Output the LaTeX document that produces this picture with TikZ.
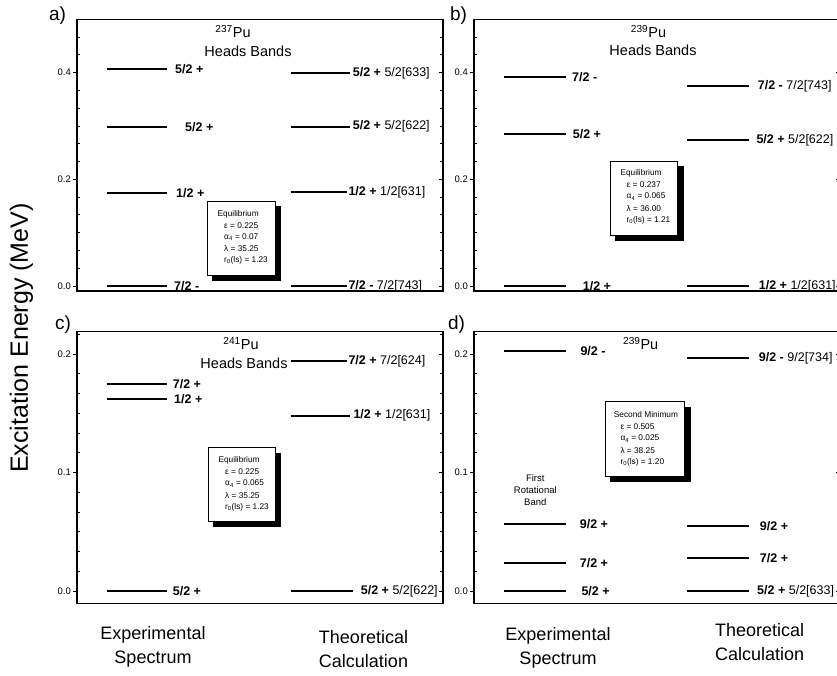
\documentclass[tikz,border=0pt]{standalone}
\usepackage{fontspec}
\setmainfont{Liberation Sans}
\tikzset{
  frameline/.style={line width=1.3pt},
  tickline/.style={line width=0.9pt},
  lvl/.style={line width=1.8pt},
  ticklab/.style={anchor=east, inner sep=0pt, font=\fontsize{9.5}{9.5}\selectfont},
  lvllab/.style={anchor=west, inner sep=0pt, font=\fontsize{12.5}{12.5}\selectfont},
  panellab/.style={inner sep=0pt, font=\fontsize{19}{19}\selectfont},
  titlelab/.style={inner sep=0pt, font=\fontsize{14.5}{14.5}\selectfont},
  boxtxt/.style={anchor=west, inner sep=0pt, font=\fontsize{8.3}{8.3}\selectfont},
  boxshadow/.style={fill=black, draw=black},
  boxface/.style={fill=white, draw=black, line width=0.9pt},
  bottomlab/.style={inner sep=0pt, align=center, font=\fontsize{18}{24}\selectfont},
  smalllab/.style={inner sep=0pt, align=center, font=\fontsize{9.5}{12.3}\selectfont},
}
% #1 left x, #2 right x, #3 top y, #4 bottom y, #5 zero y, #6 px per minor step, #7 number of steps
\newcommand\myaxes[7]{%
  \draw[frameline] (#1,#3) rectangle (#2,#4);
  \foreach \k in {0,...,#7}{%
    \pgfmathsetmacro\yy{#5-\k*#6}%
    \pgfmathtruncatemacro\mm{mod(\k,6)}%
    \ifnum\mm=0
      \draw[tickline] (#1,\yy) -- ++(-4.5,0);
      \draw[tickline] (#2,\yy) -- ++(-4.5,0);
    \else
      \draw[tickline] (#1,\yy) -- ++(3,0);
      \draw[tickline] (#2,\yy) -- ++(-3,0);
    \fi
  }%
}
% #1 name, #2 x1, #3 y1, #4 x2, #5 y2
\newcommand\parambox[5]{%
  \draw[boxshadow] (#2+5,#3+5) rectangle (#4+5,#5+5);
  \draw[boxface] (#2,#3) rectangle (#4,#5);
}
\begin{document}
\begin{tikzpicture}[x=1pt,y=-1pt]
\useasboundingbox (0,0) rectangle (837,675);
\clip (0,0) rectangle (837,675);

% ---------- axes ----------
\myaxes{77}{443}{19.5}{291}{286}{17.777}{14}
\myaxes{474}{840}{19.5}{291}{286}{17.777}{14}
\myaxes{77}{443}{331.7}{603.3}{591}{19.75}{13}
\myaxes{474}{840}{331.7}{603.3}{591}{19.75}{13}

% tick labels
\node[ticklab] (ta0) at (71,286) {0.0};
\node[ticklab] (ta2) at (71,179.3) {0.2};
\node[ticklab] (ta4) at (71,72.7) {0.4};
\node[ticklab] (tb0) at (468,286) {0.0};
\node[ticklab] (tb2) at (468,179.3) {0.2};
\node[ticklab] (tb4) at (468,72.7) {0.4};
\node[ticklab] (tc0) at (71,591) {0.0};
\node[ticklab] (tc1) at (71,472.5) {0.1};
\node[ticklab] (tc2) at (71,354) {0.2};
\node[ticklab] (td0) at (468,591) {0.0};
\node[ticklab] (td1) at (468,472.5) {0.1};
\node[ticklab] (td2) at (468,354) {0.2};

% panel letters
\node[panellab] (pa) at (57.5,15.5) {a)};
\node[panellab] (pb) at (458.5,15.5) {b)};
\node[panellab] (pc) at (63,325) {c)};
\node[panellab] (pd) at (456.5,325) {d)};

% ---------- panel a ----------
\node[titlelab] (tia) at (233,31.7) {\textsuperscript{237}Pu};
\node[titlelab] (hba) at (248,51.7) {Heads Bands};
\draw[lvl] (106.7,69.3) -- (166.7,69.3);
\draw[lvl] (106.7,126.7) -- (166.7,126.7);
\draw[lvl] (106.7,192.7) -- (166.7,192.7);
\draw[lvl] (106.7,286) -- (166.7,286);
\node[lvllab] (ea1) at (175,69.3) {\textbf{5/2 +}};
\node[lvllab] (ea2) at (185,126.7) {\textbf{5/2 +}};
\node[lvllab] (ea3) at (176,192.7) {\textbf{1/2 +}};
\node[lvllab] (ea4) at (174,286) {\textbf{7/2 -}};
\draw[lvl] (290.7,73.3) -- (350,73.3);
\draw[lvl] (290.7,126.7) -- (350,126.7);
\draw[lvl] (290.7,192) -- (346.7,192);
\draw[lvl] (290.7,286) -- (346.7,286);
\node[lvllab] (ca1) at (352.7,73.3) {\textbf{5/2 +} 5/2[633]};
\node[lvllab] (ca2) at (352.7,126.7) {\textbf{5/2 +} 5/2[622]};
\node[lvllab] (ca3) at (348.3,192) {\textbf{1/2 +} 1/2[631]};
\node[lvllab] (ca4) at (348.3,286) {\textbf{7/2 -} 7/2[743]};
\parambox{ba}{207.5}{201}{275}{275}
\node[boxtxt] (ba1) at (217.5,214) {Equilibrium};
\node[boxtxt] (ba2) at (224,225.5) {ε = 0.225};
\node[boxtxt] (ba3) at (224,237) {α\textsubscript{4} = 0.07};
\node[boxtxt] (ba4) at (224,249) {λ = 35.25};
\node[boxtxt] (ba5) at (224,260.5) {r\textsubscript{0}(ls) = 1.23};

% ---------- panel b ----------
\node[titlelab] (tib) at (648.5,31.7) {\textsuperscript{239}Pu};
\node[titlelab] (hbb) at (653,50.5) {Heads Bands};
\draw[lvl] (504.3,77.3) -- (566,77.3);
\draw[lvl] (504.3,134.3) -- (566,134.3);
\draw[lvl] (504.3,286) -- (566,286);
\node[lvllab] (eb1) at (572,77.3) {\textbf{7/2 -}};
\node[lvllab] (eb2) at (572.7,134.3) {\textbf{5/2 +}};
\node[lvllab] (eb3) at (582.7,286) {\textbf{1/2 +}};
\draw[lvl] (687,86) -- (749.3,86);
\draw[lvl] (687,140) -- (749.3,140);
\draw[lvl] (687,286) -- (749.3,286);
\node[lvllab] (cb1) at (757.7,86) {\textbf{7/2 -} 7/2[743]};
\node[lvllab] (cb2) at (756.3,140) {\textbf{5/2 +} 5/2[622]};
\node[lvllab] (cb3) at (758.7,286) {\textbf{1/2 +} 1/2[631]};
\parambox{bb}{610.3}{161}{677.7}{235}
\node[boxtxt] (bb1) at (620.3,173.5) {Equilibrium};
\node[boxtxt] (bb2) at (626.5,185) {ε = 0.237};
\node[boxtxt] (bb3) at (626.5,196.5) {α\textsubscript{4} = 0.065};
\node[boxtxt] (bb4) at (626.5,208.5) {λ = 36.00};
\node[boxtxt] (bb5) at (626.5,220) {r\textsubscript{0}(ls) = 1.21};

% ---------- panel c ----------
\node[titlelab] (tic) at (241,343.3) {\textsuperscript{241}Pu};
\node[titlelab] (hbc) at (244,363.3) {Heads Bands};
\draw[lvl] (106.7,384.3) -- (166.7,384.3);
\draw[lvl] (106.7,399) -- (166.7,399);
\draw[lvl] (106.7,591) -- (166.7,591);
\node[lvllab] (ec1) at (172.7,384.3) {\textbf{7/2 +}};
\node[lvllab] (ec2) at (174,399) {\textbf{1/2 +}};
\node[lvllab] (ec3) at (172.7,591) {\textbf{5/2 +}};
\draw[lvl] (290.7,361) -- (346.7,361);
\draw[lvl] (290.7,415.7) -- (350,415.7);
\draw[lvl] (290.7,591) -- (353.3,591);
\node[lvllab] (cc1) at (348.3,361) {\textbf{7/2 +} 7/2[624]};
\node[lvllab] (cc2) at (353.3,415.7) {\textbf{1/2 +} 1/2[631]};
\node[lvllab] (cc3) at (360.7,591) {\textbf{5/2 +} 5/2[622]};
\parambox{bc}{208.3}{447.7}{275}{521}
\node[boxtxt] (bc1) at (218.3,460.5) {Equilibrium};
\node[boxtxt] (bc2) at (225,472) {ε = 0.225};
\node[boxtxt] (bc3) at (225,483.5) {α\textsubscript{4} = 0.065};
\node[boxtxt] (bc4) at (225,495.5) {λ = 35.25};
\node[boxtxt] (bc5) at (225,507) {r\textsubscript{0}(ls) = 1.23};

% ---------- panel d ----------
\node[titlelab] (tid) at (640.7,343.3) {\textsuperscript{239}Pu};
\draw[lvl] (504.3,351) -- (566,351);
\draw[lvl] (504.3,524.3) -- (566,524.3);
\draw[lvl] (504.3,562.7) -- (566,562.7);
\draw[lvl] (504.3,591) -- (566,591);
\node[lvllab] (ed1) at (580.3,351) {\textbf{9/2 -}};
\node[lvllab] (ed2) at (579.7,524.3) {\textbf{9/2 +}};
\node[lvllab] (ed3) at (579.7,562.7) {\textbf{7/2 +}};
\node[lvllab] (ed4) at (581.3,591) {\textbf{5/2 +}};
\draw[lvl] (687,358.3) -- (749.3,358.3);
\draw[lvl] (687,525.7) -- (749.3,525.7);
\draw[lvl] (687,557.7) -- (749.3,557.7);
\draw[lvl] (687,591) -- (749.3,591);
\node[lvllab] (cd1) at (758.7,358.3) {\textbf{9/2 -} 9/2[734]};
\node[lvllab] (cd2) at (759.7,525.7) {\textbf{9/2 +}};
\node[lvllab] (cd3) at (759.7,557.7) {\textbf{7/2 +}};
\node[lvllab] (cd4) at (757,591) {\textbf{5/2 +} 5/2[633]};
\node[smalllab] (frb) at (535.3,490) {First\\Rotational\\Band};
\parambox{bd}{605.3}{401.7}{684.7}{476}
\node[boxtxt] (bd1) at (613.7,415) {Second Minimum};
\node[boxtxt] (bd2) at (620.3,426.5) {ε = 0.505};
\node[boxtxt] (bd3) at (620.3,438.5) {α\textsubscript{4} = 0.025};
\node[boxtxt] (bd4) at (620.3,450.5) {λ = 38.25};
\node[boxtxt] (bd5) at (620.3,462.5) {r\textsubscript{0}(ls) = 1.20};

% ---------- bottom and axis labels ----------
\node[bottomlab] (xa1) at (153,647) {Experimental\\Spectrum};
\node[bottomlab] (xa2) at (363.5,649.5) {Theoretical\\Calculation};
\node[bottomlab] (xb1) at (558,648) {Experimental\\Spectrum};
\node[bottomlab] (xb2) at (759.7,641.7) {Theoretical\\Calculation};
\node[inner sep=0pt, rotate=90, font=\fontsize{25}{25}\selectfont] (ylab) at (21.5,338) {Excitation Energy (MeV)};
\end{tikzpicture}
\end{document}
